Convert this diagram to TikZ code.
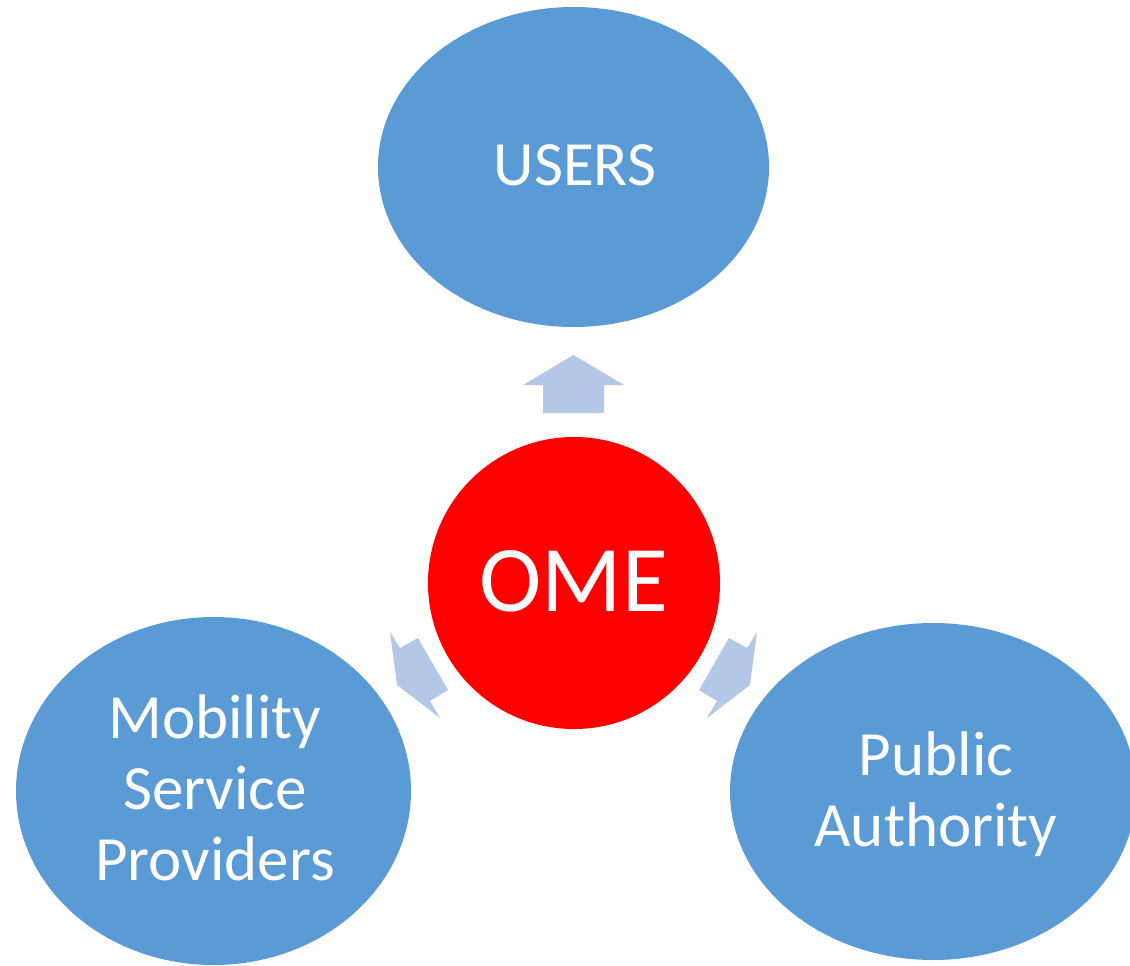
\documentclass[tikz,border=0pt]{standalone}
\usepackage{fontspec}
\setmainfont{Carlito}
\usetikzlibrary{shapes.geometric}
\definecolor{blobblue}{HTML}{5B9BD5}
\definecolor{arrowblue}{HTML}{B4C7E7}
\definecolor{omered}{HTML}{FF0000}
\tikzset{
  blob/.style={ellipse, fill=blobblue, draw=none, inner sep=0pt},
  hub/.style={circle, fill=omered, draw=none, inner sep=0pt, minimum size=292pt},
  bigarrow/.style={fill=arrowblue, draw=none},
  lbl/.style={text=white, align=center, anchor=base, inner sep=0pt, font=\fontsize{63}{71}\selectfont},
}
\begin{document}
\begin{tikzpicture}[x=1pt,y=-1pt]
\useasboundingbox (0,0) rectangle (1130,966);
\begin{scope}
\clip (0,0) rectangle (1130,966);
\node[blob, minimum width=391pt, minimum height=320pt] (users) at (573.5,167) {};
\node[blob, minimum width=395pt, minimum height=348pt] (msp) at (213.5,791) {};
\node[blob, minimum width=406pt, minimum height=337pt] (pa) at (933,791.5) {};
\node[hub] (ome) at (574,583) {};
\end{scope}
\node[lbl] (tusers) at (575,185) {USERS};
\node[lbl, font=\fontsize{94}{100}\selectfont] (tome) at (574,611) {OME};
\node[lbl] (tmsp) at (215,880) {Mobility\\Service\\Providers};
\node[lbl] (tpa) at (936,846) {Public\\Authority};
% arrows
\fill[bigarrow] (543,413) -- (543,385) -- (523,385) -- (573.5,355) -- (624,385) -- (604,385) -- (604,413) -- cycle;
\fill[bigarrow] (390,632) -- (400,648) -- (418,638) -- (448,690) -- (430,701) -- (440,718) -- (397,685) -- cycle;
\fill[bigarrow] (757,632) -- (747,648) -- (729,638) -- (699,690) -- (717,701) -- (707,718) -- (750,685) -- cycle;
\end{tikzpicture}
\end{document}
